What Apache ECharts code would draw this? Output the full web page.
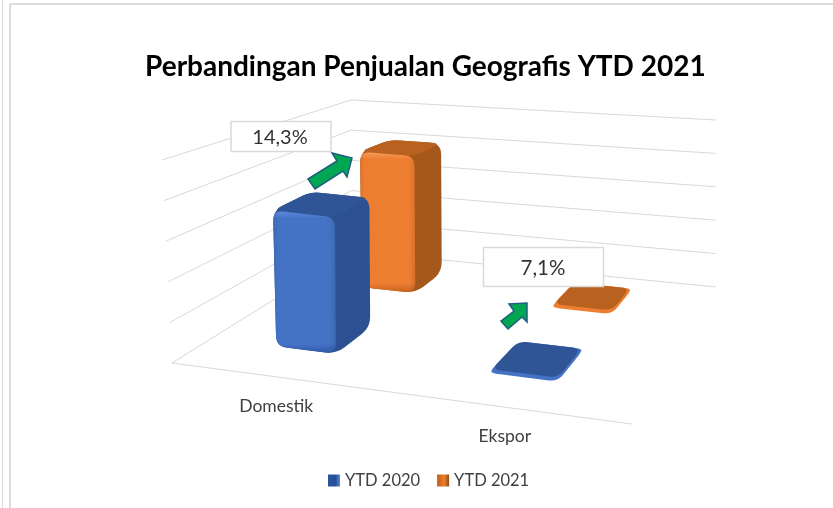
<!DOCTYPE html>
<html><head><meta charset="utf-8">
<style>html,body{margin:0;padding:0;background:#fff}#c{width:833px;height:508px}</style>
<script src="https://cdn.jsdelivr.net/npm/echarts@6/dist/echarts.min.js"></script>
</head><body><div id="c"></div>
<script>
const categories = ['Domestik', 'Ekspor'];
const ytd2020 = [3500, 98];
const ytd2021 = [4000, 105];
const valueTicks = [0, 1000, 2000, 3000, 4000, 5000];
const seriesNames = ['YTD 2020', 'YTD 2021'];
const titleText = 'Perbandingan Penjualan Geografis YTD 2021';
const growthLabels = ['14,3%', '7,1%'];

const GRID = {left: 100, top: 60, width: 500, height: 300};
const FONT = 'Lato, "Open Sans", sans-serif';

// Projection of the chart cube (u across, w into the page, v up) on the screen
function homography(A, B, D, C) {
  const dx1 = B[0]-D[0], dx2 = C[0]-D[0], sx = A[0]-B[0]+D[0]-C[0];
  const dy1 = B[1]-D[1], dy2 = C[1]-D[1], sy = A[1]-B[1]+D[1]-C[1];
  const det = dx1*dy2 - dx2*dy1;
  const g = (sx*dy2 - dx2*sy)/det, h = (dx1*sy - sx*dy1)/det;
  const a = B[0]-A[0]+g*B[0], b = C[0]-A[0]+h*C[0];
  const d = B[1]-A[1]+g*B[1], e = C[1]-A[1]+h*C[1];
  return (u, w) => {
    const q = 1 + g*u + h*w;
    return [(a*u + b*w + A[0])/q, (d*u + e*w + A[1])/q];
  };
}
const floorP = homography([172,363],[632,424],[716,287],[352,251]);
const RISE = {A:[-10,-203], B:[18,-204], C:[-1,-151], D:[0,-167]};
function P(u, w, v) {
  const f = floorP(u, w);
  const mix = i => (1-w)*((1-u)*RISE.A[i] + u*RISE.B[i]) + w*((1-u)*RISE.C[i] + u*RISE.D[i]);
  return [f[0] + mix(0)*v, f[1] + mix(1)*v];
}
function toUV(pt) {
  return [(pt[0]-GRID.left)/GRID.width, (GRID.top+GRID.height-pt[1])/GRID.height];
}

// Polygon with rounded corners, sampled as points
function rounded(pts, r) {
  const out = [], n = pts.length;
  for (let i = 0; i < n; i++) {
    const p = pts[i], a = pts[(i+n-1)%n], b = pts[(i+1)%n];
    const la = Math.hypot(a[0]-p[0], a[1]-p[1]), lb = Math.hypot(b[0]-p[0], b[1]-p[1]);
    const ra = Math.min(r, la*0.48), rb = Math.min(r, lb*0.48);
    const s = [p[0]+(a[0]-p[0])*ra/la, p[1]+(a[1]-p[1])*ra/la];
    const e = [p[0]+(b[0]-p[0])*rb/lb, p[1]+(b[1]-p[1])*rb/lb];
    for (let k = 0; k <= 6; k++) {
      const t = k/6, m = 1-t;
      out.push([m*m*s[0]+2*m*t*p[0]+t*t*e[0], m*m*s[1]+2*m*t*p[1]+t*t*e[1]]);
    }
  }
  return out;
}
const poly = (pts, r, fill) => ({type: 'polygon', shape: {points: rounded(pts, r)}, style: {fill: fill}, silent: true});
const vGrad = (stops) => ({type:'linear', x:0, y:0, x2:0, y2:1, colorStops: stops.map(s => ({offset:s[0], color:s[1]}))});
const hGrad = (stops) => ({type:'linear', x:0, y:0, x2:1, y2:0, colorStops: stops.map(s => ({offset:s[0], color:s[1]}))});

const BAR_HALF_U = 0.072, BAR_HALF_W = 0.10, SHIFT_U = -0.017, SHIFT_W = 0.03;
const PALETTE = [
  {front:'#4472c4', light:'#5a88dc', dark:'#2f5aa8', top:'#2f5597', side:'#2c5091'},
  {front:'#ed7d31', light:'#f79a55', dark:'#c9651f', top:'#b9621f', side:'#a5581b'}
];

function barRenderer(si) {
  return function (params, api) {
    const uv = toUV(api.coord([api.value(0), api.value(1)]));
    const pal = PALETTE[si];
    const uc = uv[0] + SHIFT_U, wc = (si + 0.5)/seriesNames.length + SHIFT_W, v = uv[1];
    const u0 = uc-BAR_HALF_U, u1 = uc+BAR_HALF_U, w0 = wc-BAR_HALF_W, w1 = wc+BAR_HALF_W;
    const fbl=P(u0,w0,0), fbr=P(u1,w0,0), bbr=P(u1,w1,0), ftl=P(u0,w0,v), ftr=P(u1,w0,v), btr=P(u1,w1,v), btl=P(u0,w1,v);
    const tall = v > 0.2;
    if (!tall) {
      return {type:'group', children:[
        poly([fbl,fbr,bbr,btr,btl,ftl], 9, pal.front),
        poly([ftl,ftr,btr,btl], 9, pal.top)
      ]};
    }
    return {type: 'group', children: [
      poly([fbl,fbr,bbr,btr,btl,ftl], 11, pal.side),
      poly([ftl,ftr,btr,btl], 9, pal.top),
      poly([fbl,fbr,ftr,ftl], 10, vGrad(
        [[0,pal.light],[0.05,pal.front],[0.94,pal.front],[1,pal.dark]])),
      poly([fbl,fbr,ftr,ftl], 10, hGrad(
        [[0,'rgba(0,0,0,0.08)'],[0.08,'rgba(0,0,0,0)'],[0.9,'rgba(0,0,0,0)'],[1,'rgba(0,0,0,0.10)']]))
    ]};
  };
}

const option = {
  animation: false,
  backgroundColor: '#fff',
  title: {text: titleText, left: 140, top: 48, itemGap: 0,
    textStyle: {fontFamily: FONT, fontWeight: 'bold', fontSize: 28, color: '#000'}},
  legend: {
    data: seriesNames, top: 467, left: 323, icon: 'rect', itemWidth: 12, itemHeight: 12, itemGap: 17,
    textStyle: {fontFamily: FONT, fontSize: 16.5, color: '#404040'}
  },
  grid: GRID,
  xAxis: {type: 'category', data: categories, show: false},
  yAxis: {type: 'value', min: 0, max: 5000, interval: 1000, show: false},
  series: [
    {
      type: 'custom', name: 'walls', z: 1, silent: true,
      data: valueTicks.map(t => [0, t]),
      encode: {x: 0, y: 1},
      renderItem(params, api) {
        const v = toUV(api.coord([0, api.value(1)]))[1];
        const ch = [{type:'polyline', silent:true,
          shape:{points:[P(0,0,v),P(0,1,v),P(1,1,v)]},
          style:{stroke:'#d9d9d9', lineWidth:1, fill:'none'}}];
        if (v < 0.001) ch.push({type:'line', silent:true,
          shape:{x1:P(0,0,0)[0],y1:P(0,0,0)[1],x2:P(1,0,0)[0],y2:P(1,0,0)[1]},
          style:{stroke:'#d9d9d9', lineWidth:1}});
        return {type:'group', children:ch};
      }
    },
    {
      type: 'custom', name: seriesNames[0], z: 3, silent: true,
      itemStyle: {color: hGrad([[0,'#2f5597'],[0.6,'#1f4e9e'],[1,'#5b86d0']])},
      data: ytd2020.map((y,i) => [i,y]), encode: {x:0, y:1}, renderItem: barRenderer(0)
    },
    {
      type: 'custom', name: seriesNames[1], z: 2, silent: true,
      itemStyle: {color: hGrad([[0,'#c55a11'],[0.6,'#e8802e'],[1,'#8c4a16']])},
      data: ytd2021.map((y,i) => [i,y]), encode: {x:0, y:1}, renderItem: barRenderer(1)
    },
    {
      type: 'custom', name: 'categoryLabels', z: 4, silent: true,
      data: categories.map((c,i) => [i, 0]), encode: {x:0, y:1},
      renderItem(params, api) {
        const uv = toUV(api.coord([api.value(0), 0]));
        const p = P(uv[0]+SHIFT_U, 0, 0);
        return {type:'text', silent:true, x:p[0]+6, y:p[1]+30,
          style:{text:categories[params.dataIndex], fill:'#404040', font:'17.5px '+FONT, align:'center', verticalAlign:'middle'}};
      }
    }
  ],
  graphic: [
    {type:'line', z:50, silent:true, shape:{x1:2.5,y1:0,x2:2.5,y2:508}, style:{stroke:'#d9d9d9',lineWidth:1}},
    {type:'line', z:50, silent:true, shape:{x1:10,y1:4,x2:10,y2:508}, style:{stroke:'#d0d0d0',lineWidth:1.5}},
    {type:'line', z:50, silent:true, shape:{x1:10,y1:4,x2:833,y2:4}, style:{stroke:'#d0d0d0',lineWidth:1.5}},
    {type:'polygon', z:60, silent:true,
      shape:{points:[[308,179],[337,161],[332,153],[352,158],[347,177],[343,171],[315,189]]},
      style:{fill:'#00a651', stroke:'#1f5f7f', lineWidth:1.5}},
    {type:'polygon', z:60, silent:true,
      shape:{points:[[501,321],[514,311],[509,304],[527,303],[527,322],[522,317],[508,329]]},
      style:{fill:'#00a651', stroke:'#1f5f7f', lineWidth:1.5}},
    {type:'rect', z:60, silent:true, shape:{x:231,y:121.5,width:100,height:30},
      style:{fill:'#fff', stroke:'#d9d9d9', lineWidth:1.5}},
    {type:'text', z:61, silent:true, x:280, y:138,
      style:{text:growthLabels[0], fill:'#333', font:'20px '+FONT, align:'center', verticalAlign:'middle'}},
    {type:'rect', z:60, silent:true, shape:{x:483.5,y:247.5,width:120,height:39},
      style:{fill:'#fff', stroke:'#d9d9d9', lineWidth:1.5}},
    {type:'text', z:61, silent:true, x:543, y:268,
      style:{text:growthLabels[1], fill:'#333', font:'20.5px '+FONT, align:'center', verticalAlign:'middle'}}
  ]
};
const chart = echarts.init(document.getElementById('c'), null, {renderer:'canvas'});
chart.setOption(option);
</script></body></html>
